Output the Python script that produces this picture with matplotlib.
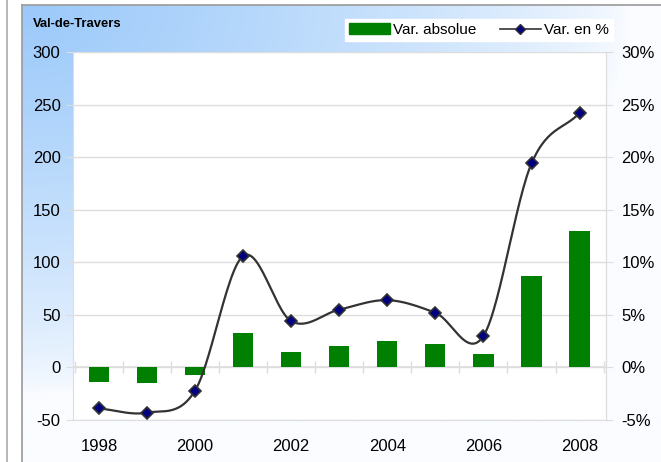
import numpy as np
import matplotlib.pyplot as plt
from matplotlib.patches import Patch
from matplotlib.lines import Line2D

plt.rcParams['font.family'] = ['Liberation Sans', 'DejaVu Sans']
plt.rcParams['axes.unicode_minus'] = False

years = [1998, 1999, 2000, 2001, 2002, 2003, 2004, 2005, 2006, 2007, 2008]
var_abs = [-14, -15, -7, 33, 15, 20, 25, 22, 13, 87, 130]
var_pct = [-3.9, -4.3, -2.2, 10.6, 4.4, 5.5, 6.4, 5.2, 3.0, 19.4, 24.2]
year_labels = ['1998', '', '2000', '', '2002', '', '2004', '', '2006', '', '2008']


def catmull(xs, ys, n=30):
    # smooth curve through the points, like the spreadsheet "smoothed line"
    xs = np.asarray(xs, float)
    ys = np.asarray(ys, float)
    px = np.concatenate([[2 * xs[0] - xs[1]], xs, [2 * xs[-1] - xs[-2]]])
    py = np.concatenate([[2 * ys[0] - ys[1]], ys, [2 * ys[-1] - ys[-2]]])
    ox, oy = [], []
    t = np.linspace(0, 1, n)
    for i in range(1, len(px) - 2):
        for p, o in ((px, ox), (py, oy)):
            p0, p1, p2, p3 = p[i - 1], p[i], p[i + 1], p[i + 2]
            o.extend(0.5 * (2 * p1 + (-p0 + p2) * t + (2 * p0 - 5 * p1 + 4 * p2 - p3) * t ** 2
                            + (-p0 + 3 * p1 - 3 * p2 + p3) * t ** 3))
    return np.array(ox), np.array(oy)


fig = plt.figure(figsize=(6.61, 4.62), dpi=100)

# gradient background of the chart box (row 0 = top)
bg = fig.add_axes([22 / 661, 0, 1 - 22 / 661, 1 - 5 / 462])
h, w = 200, 300
u = np.linspace(0, 1, w)[None, :]
v = np.linspace(0, 1, h)[:, None]
r = np.sqrt((u / 0.95) ** 2 + (v / 0.85) ** 2)
t = np.clip(1 - r, 0, 1) ** 0.7
blue = np.array([155, 201, 250]) / 255
white = np.array([250, 252, 255]) / 255
img = white + (blue - white) * t[..., None]
bg.imshow(img, aspect='auto', extent=[0, 1, 0, 1])
bg.set_xlim(0, 1)
bg.set_ylim(0, 1)
bg.set_xticks([])
bg.set_yticks([])
for s in ['right', 'bottom']:
    bg.spines[s].set_visible(False)
for s in ['left', 'top']:
    bg.spines[s].set_color('#999999')
    bg.spines[s].set_linewidth(1.2)

fig.add_artist(Line2D([7 / 661, 7 / 661], [0, 1], color='#aaaaaa', lw=1.2))

ax = fig.add_axes([73 / 661, 42 / 462, 533 / 661, 368 / 462])
ax.set_facecolor('white')
x = np.arange(len(years))
ax.bar(x, var_abs, width=0.42, color='#008000', zorder=3)
ax.set_xlim(-0.54, len(years) - 0.45)
ax.set_ylim(-50, 300)
ax.set_yticks(range(-50, 301, 50))
ax.grid(axis='y', color='#dddddd', lw=1, zorder=0)
ax.axhline(0, color='#dddddd', lw=1.2, zorder=1)
ax.plot(np.arange(len(years) + 1) - 0.5, np.zeros(len(years) + 1), ls='none',
        marker='|', ms=9, mew=1, color='#dddddd', zorder=1)
ax.set_xticks(x)
ax.set_xticklabels(year_labels)
ax.tick_params(axis='x', length=0, pad=14, labelsize=12)
ax.tick_params(axis='y', length=5, color='#dddddd', labelsize=12, pad=4)
ax.spines['top'].set_visible(False)
for s in ['left', 'right', 'bottom']:
    ax.spines[s].set_color('#dddddd')

ax2 = ax.twinx()
cx, cy = catmull(x, var_pct)
ax2.plot(cx, cy, color='#333333', lw=1.6, zorder=4)
ax2.plot(x, var_pct, ls='none', marker='D', ms=6, mfc='#000080', mec='#333333', mew=1.2, zorder=5)
ax2.set_ylim(-5, 30)
ax2.set_yticks(range(-5, 31, 5))
ax2.set_yticklabels([f'{v}%' for v in range(-5, 31, 5)])
ax2.tick_params(axis='y', length=5, color='#dddddd', labelsize=12, pad=6)
for s in ['top', 'left', 'bottom']:
    ax2.spines[s].set_visible(False)
ax2.spines['right'].set_color('#dddddd')

fig.text(33 / 661, 1 - 24 / 462, 'Val-de-Travers', fontsize=9.4, fontweight='bold', va='center')

handles = [Patch(color='#008000'),
           Line2D([], [], color='#333333', lw=1.2, marker='D', ms=5, mfc='#000080', mec='#333333')]
leg = fig.legend(handles, ['Var. absolue', 'Var. en %'], ncol=2, loc='center',
                 bbox_to_anchor=(479 / 661, 1 - 30 / 462), frameon=True, fancybox=False,
                 fontsize=11, handlelength=2.7, handletextpad=0.2, columnspacing=1.5,
                 borderpad=0.25, borderaxespad=0)
leg.get_frame().set_edgecolor('white')
leg.get_frame().set_facecolor('white')
leg.get_frame().set_alpha(1)

fig.savefig('out.png', dpi=100)
